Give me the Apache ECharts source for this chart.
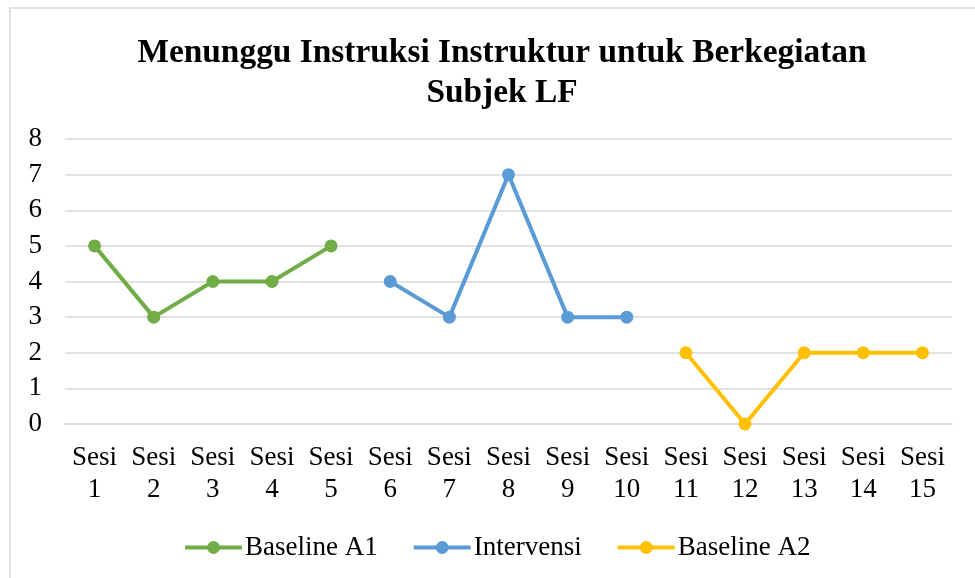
<!DOCTYPE html>
<html>
<head>
<meta charset="utf-8">
<script src="https://cdn.jsdelivr.net/npm/echarts@6/dist/echarts.min.js"></script>
<style>
  html, body { margin: 0; padding: 0; background: #fff; }
  #chart { width: 975px; height: 578px; }
</style>
</head>
<body>
<div id="chart"></div>
<script>
const categories = ['Sesi\n1', 'Sesi\n2', 'Sesi\n3', 'Sesi\n4', 'Sesi\n5', 'Sesi\n6', 'Sesi\n7', 'Sesi\n8',
  'Sesi\n9', 'Sesi\n10', 'Sesi\n11', 'Sesi\n12', 'Sesi\n13', 'Sesi\n14', 'Sesi\n15'];
const baselineA1 = [5, 3, 4, 4, 5];
const intervensi = [4, 3, 7, 3, 3];
const baselineA2 = [2, 0, 2, 2, 2];

// place each phase on its own stretch of the 15 sessions
function phase(values, start) {
  const out = categories.map(() => null);
  values.forEach((v, i) => { out[start + i] = v; });
  return out;
}

const serif = '"Liberation Serif", "Times New Roman", serif';

function lineSeries(name, color, data) {
  return {
    name,
    type: 'line',
    data,
    symbol: 'circle',
    symbolSize: 13,
    connectNulls: false,
    lineStyle: { color, width: 4 },
    itemStyle: { color },
    emphasis: { disabled: true }
  };
}

const chart = echarts.init(document.getElementById('chart'));
chart.setOption({
  animation: false,
  graphic: [{
    type: 'rect',
    z: -10,
    shape: { x: 10, y: 8, width: 1200, height: 1200 },
    style: { fill: 'none', stroke: '#d9d9d9', lineWidth: 1.5 }
  }],
  title: {
    text: 'Menunggu Instruksi Instruktur untuk Berkegiatan\nSubjek LF',
    left: 497,
    top: 28,
    textAlign: 'center',
    textStyle: {
      fontFamily: serif,
      fontWeight: 'bold',
      fontSize: 33.4,
      lineHeight: 40,
      color: '#000'
    }
  },
  grid: { left: 65, right: 23, top: 139, bottom: 154 },
  xAxis: {
    type: 'category',
    data: categories,
    boundaryGap: true,
    axisLine: { lineStyle: { color: '#d9d9d9', width: 1.5 } },
    axisTick: { show: false },
    axisLabel: {
      interval: 0,
      margin: 18,
      fontFamily: serif,
      fontSize: 27,
      lineHeight: 32,
      color: '#000'
    }
  },
  yAxis: {
    type: 'value',
    min: 0,
    max: 8,
    interval: 1,
    axisLine: { show: false },
    axisTick: { show: false },
    splitLine: { lineStyle: { color: '#d9d9d9', width: 1.5 } },
    axisLabel: {
      margin: 23,
      fontFamily: serif,
      fontSize: 27,
      color: '#000'
    }
  },
  legend: {
    top: 534,
    left: 183,
    padding: 0,
    itemWidth: 57,
    itemHeight: 16,
    itemGap: 34,
    lineStyle: { width: 4 },
    textStyle: { fontFamily: serif, fontSize: 27, color: '#000', padding: [0, 0, 0, -2] },
    data: ['Baseline A1', 'Intervensi', 'Baseline A2']
  },
  series: [
    lineSeries('Baseline A1', '#70AD47', phase(baselineA1, 0)),
    lineSeries('Intervensi', '#5B9BD5', phase(intervensi, 5)),
    lineSeries('Baseline A2', '#FFC000', phase(baselineA2, 10))
  ]
});
</script>
</body>
</html>
